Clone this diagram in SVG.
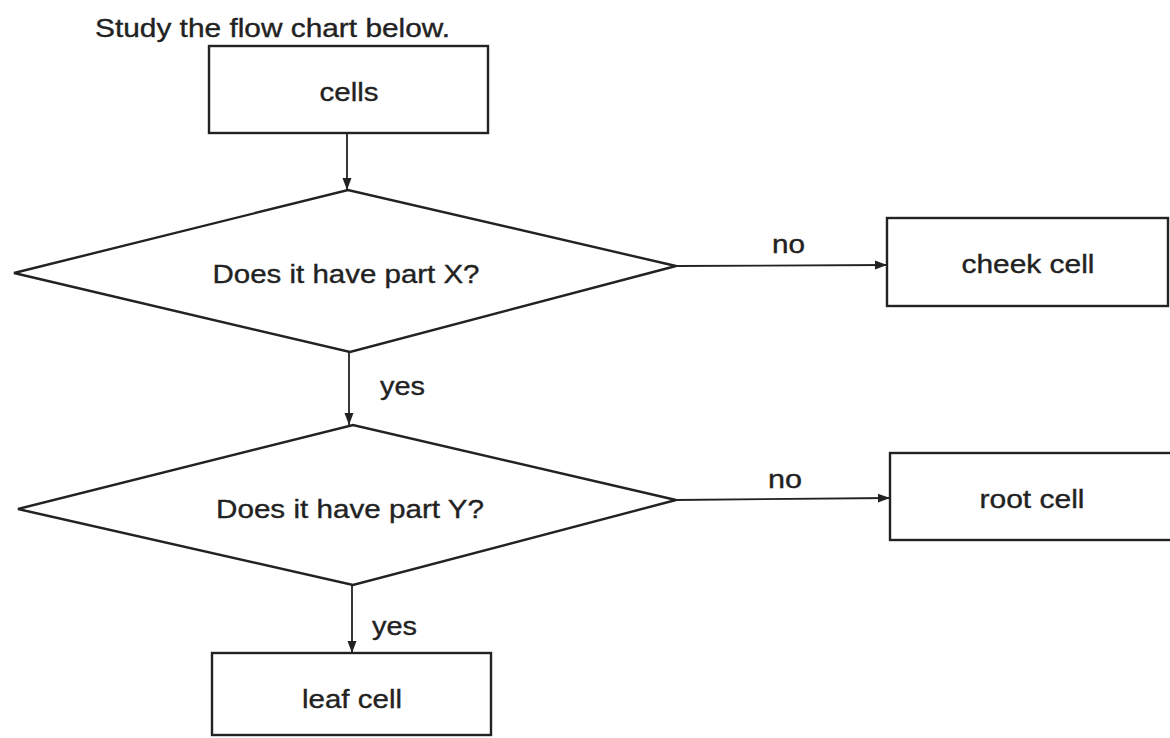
<svg xmlns="http://www.w3.org/2000/svg" width="1170" height="738" viewBox="0 0 1170 738">
<style>
.box{fill:#fff;stroke:#222;stroke-width:2.4}
.dia{fill:#fff;stroke:#222;stroke-width:2.4;stroke-linejoin:miter}
.t{font-family:"Liberation Sans",Arial,sans-serif;font-size:26px;fill:#222;stroke:#222;stroke-width:0.35;text-anchor:middle}
.lbl{font-family:"Liberation Sans",Arial,sans-serif;font-size:25px;fill:#222;stroke:#222;stroke-width:0.35}
.con{stroke:#222;stroke-width:1.8;fill:none;marker-end:url(#ah)}
</style>
<defs>
<marker id="ah" viewBox="0 0 12 10" refX="12" refY="5" markerWidth="12" markerHeight="10" markerUnits="userSpaceOnUse" orient="auto">
<path d="M0,0.5 L12,5 L0,9.5 Z" fill="#222"/>
</marker>
</defs>
<rect width="1170" height="738" fill="#fff"/>
<text class="lbl" x="95" y="37" font-size="26" textLength="355" lengthAdjust="spacingAndGlyphs">Study the flow chart below.</text>
<g id="connectors">
<line class="con" x1="347" y1="133" x2="347" y2="190"/>
<line class="con" x1="676" y1="266" x2="887" y2="265"/>
<line class="con" x1="349" y1="352" x2="349" y2="425"/>
<line class="con" x1="676" y1="500" x2="890" y2="498"/>
<line class="con" x1="352" y1="585" x2="352" y2="653"/>
<text class="lbl" x="772" y="253" textLength="33" lengthAdjust="spacingAndGlyphs">no</text>
<text class="lbl" x="380" y="395" textLength="45" lengthAdjust="spacingAndGlyphs">yes</text>
<text class="lbl" x="768" y="488" textLength="34" lengthAdjust="spacingAndGlyphs">no</text>
<text class="lbl" x="372" y="635" textLength="45" lengthAdjust="spacingAndGlyphs">yes</text>
</g>
<g id="cells">
<rect class="box" x="209" y="46" width="279" height="87"/>
<text class="t" x="349" y="101" textLength="59" lengthAdjust="spacingAndGlyphs">cells</text>
</g>
<g id="q1">
<polygon class="dia" points="14,273 348,190 676,266 350,352"/>
<text class="t" x="346" y="283" textLength="267" lengthAdjust="spacingAndGlyphs">Does it have part X?</text>
</g>
<g id="cheek">
<rect class="box" x="887" y="218" width="281" height="88"/>
<text class="t" x="1028" y="273" textLength="133" lengthAdjust="spacingAndGlyphs">cheek cell</text>
</g>
<g id="q2">
<polygon class="dia" points="18,509 353,425 676,500 353,585"/>
<text class="t" x="350" y="518" textLength="268" lengthAdjust="spacingAndGlyphs">Does it have part Y?</text>
</g>
<g id="root">
<rect class="box" x="890" y="453" width="282" height="87"/>
<text class="t" x="1032" y="508" textLength="105" lengthAdjust="spacingAndGlyphs">root cell</text>
</g>
<g id="leaf">
<rect class="box" x="212" y="653" width="279" height="82"/>
<text class="t" x="352" y="708" textLength="100" lengthAdjust="spacingAndGlyphs">leaf cell</text>
</g>
</svg>
